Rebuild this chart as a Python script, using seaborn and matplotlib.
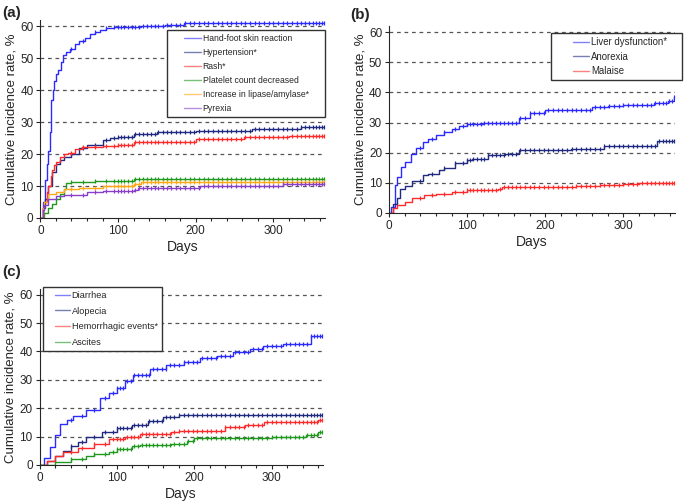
import numpy as np
import pandas as pd
import matplotlib
matplotlib.use("Agg")
import matplotlib.pyplot as plt
import seaborn as sns
from matplotlib.ticker import MultipleLocator
from matplotlib.patches import Rectangle

# panel (a)
a_hfsr_days = [0, 3, 6, 8, 10, 12, 14, 16, 18, 20, 23, 26, 29, 33, 38, 44, 50, 57, 64, 70, 77, 85, 95, 110, 130, 160, 185, 220, 365]
a_hfsr = [0, 5, 12, 17, 21, 27, 37, 40, 43, 45, 46.5, 49, 51, 52, 53, 54.5, 55.3, 56.5, 57.5, 58.3, 59, 59.5, 59.8, 59.9, 60, 60.5, 61, 61.2, 61.2]
a_htn_days = [0, 3, 6, 10, 15, 20, 25, 30, 40, 50, 60, 70, 80, 90, 100, 120, 150, 200, 273, 335, 365]
a_htn = [0, 3, 6, 10, 14.5, 17, 18.3, 19, 20, 22, 22.8, 23, 24.5, 25, 25.5, 26.3, 27, 27.2, 27.9, 28.6, 28.6]
a_rash_days = [0, 3, 5, 8, 10, 13, 15, 18, 20, 25, 30, 35, 45, 53, 60, 80, 100, 120, 170, 200, 262, 320, 365]
a_rash = [0, 3, 5, 8, 10, 13, 15, 16.5, 17.5, 19, 20, 20.5, 21.5, 22.1, 22.3, 22.5, 23, 23.7, 23.8, 24.7, 25.5, 25.8, 25.8]
a_plt_days = [0, 5, 10, 15, 20, 25, 30, 33, 40, 70, 120, 365]
a_plt = [0, 1.5, 3, 4.5, 6, 7.5, 9, 11, 11.3, 11.5, 12.1, 12.1]
a_lip_days = [0, 3, 5, 10, 20, 30, 50, 80, 120, 130, 365]
a_lip = [0, 3, 5, 7.5, 8, 9, 9.5, 10, 10.5, 11.2, 11.2]
a_pyr_days = [0, 3, 5, 10, 20, 30, 60, 80, 120, 125, 205, 312, 365]
a_pyr = [0, 2.5, 4, 6, 7, 7.2, 8, 8.5, 8.8, 9.5, 10.1, 10.5, 10.5]

# panel (b)
b_liver_days = [0, 3, 7, 10, 15, 20, 28, 35, 43, 50, 60, 70, 81, 90, 100, 120, 150, 166, 180, 200, 230, 260, 280, 300, 340, 358, 365]
b_liver = [0, 2, 9.2, 12, 15.2, 17, 19.7, 21.5, 23.5, 24.5, 25.8, 27, 28, 28.8, 29.6, 29.8, 30, 31.5, 33, 34, 34.3, 35, 35.5, 35.8, 36.5, 37.2, 38.5]
b_anor_days = [0, 5, 10, 14, 20, 30, 43, 50, 64, 70, 85, 100, 106, 127, 148, 166, 210, 233, 275, 290, 343, 365]
b_anor = [0, 3, 5, 8.1, 9, 10.5, 12.5, 13, 14.2, 15, 16.4, 17.5, 18, 19.1, 19.7, 20.8, 21, 21.3, 22.1, 22.3, 24, 24]
b_mal_days = [0, 5, 10, 20, 30, 45, 60, 80, 100, 140, 145, 200, 240, 270, 300, 320, 365]
b_mal = [0, 1.5, 2.5, 3.5, 4.8, 5.8, 6.3, 6.8, 7.5, 7.8, 8.5, 8.5, 9, 9.2, 9.5, 10, 10]

# panel (c)
c_diar_days = [0, 5, 13, 20, 26, 35, 43, 60, 78, 90, 100, 110, 121, 143, 164, 186, 207, 229, 250, 272, 289, 315, 351, 365]
c_diar = [0, 2.5, 6.3, 10.5, 14.4, 16, 17.2, 19.5, 23.6, 25.5, 27, 29.5, 31.6, 33.9, 35.1, 36.2, 37.6, 38.5, 39.7, 40.8, 42, 42.5, 45.4, 45.5]
c_alo_days = [0, 10, 20, 30, 40, 50, 60, 80, 100, 120, 140, 160, 180, 365]
c_alo = [0, 1.5, 3, 5, 6.5, 8, 10, 11.5, 13, 14, 15.5, 17, 17.7, 17.7]
c_hem_days = [0, 10, 20, 30, 50, 70, 90, 110, 130, 170, 180, 230, 240, 265, 290, 360, 365]
c_hem = [0, 1.5, 3, 4.5, 6, 7.5, 9, 10, 10.8, 11.5, 12, 12, 13.5, 14, 15, 15.8, 15.8]
c_asc_days = [0, 20, 40, 60, 70, 90, 100, 120, 130, 170, 190, 200, 300, 345, 360, 365]
c_asc = [0, 1, 2, 3, 4, 4.5, 5.5, 6.5, 7, 7.5, 8.5, 9.5, 10, 10.5, 11.5, 11.5]

# censored follow-up times (tick marks)
censor_days = [40, 55, 70, 85, 95, 100, 104, 108, 113, 118, 122, 127, 132, 137, 142, 147, 152, 158, 163, 168, 174, 180, 186, 192, 198,
               204, 210, 216, 222, 228, 234, 240, 246, 252, 258, 264, 270, 276, 282, 288, 294, 300, 306, 312, 318, 324,
               330, 336, 341, 346, 351, 355, 359, 362, 365]

blue = "#2b2bff"
navy = "#1f2a80"
red = "#ff2b2b"
green = "#1f9a1f"
orange = "#ffa81a"
purple = "#8a3fc8"

panels = [
    dict(letter="(a)", letter_xy=(0.004, 0.961), rect=[0.059, 0.565, 0.415, 0.395],
         series=[("Hand-foot skin reaction", a_hfsr_days, a_hfsr, blue),
                 ("Hypertension*", a_htn_days, a_htn, navy),
                 ("Rash*", a_rash_days, a_rash, red),
                 ("Platelet count decreased", a_plt_days, a_plt, green),
                 ("Increase in lipase/amylase*", a_lip_days, a_lip, orange),
                 ("Pyrexia", a_pyr_days, a_pyr, purple)],
         box=(0.445, 0.95), pads=(13, 12), fs=6.2, ls=0.58, hl=2.0),
    dict(letter="(b)", letter_xy=(0.511, 0.956), rect=[0.568, 0.575, 0.417, 0.373],
         series=[("Liver dysfunction*", b_liver_days, b_liver, blue),
                 ("Anorexia", b_anor_days, b_anor, navy),
                 ("Malaise", b_mal_days, b_mal, red)],
         box=(0.567, 0.963), pads=(18, 10), fs=6.9, ls=0.45, hl=1.65),
    dict(letter="(c)", letter_xy=(0.004, 0.443), rect=[0.058, 0.072, 0.413, 0.351],
         series=[("Diarrhea", c_diar_days, c_diar, blue),
                 ("Alopecia", c_alo_days, c_alo, navy),
                 ("Hemorrhagic events*", c_hem_days, c_hem, red),
                 ("Ascites", c_asc_days, c_asc, green)],
         box=(0.012, 1.012), pads=(8, 0), fs=6.6, ls=0.72, hl=1.6),
]

sns.set_style("ticks")
plt.rcParams['font.family'] = ['Liberation Sans', 'DejaVu Sans']

fig = plt.figure(figsize=(6.85, 5.01), dpi=100)
legends = []

for p in panels:
    rect = p["rect"]
    ax = fig.add_axes(rect)
    for y in range(10, 61, 10):
        ax.axhline(y, color="#555555", lw=0.9, ls=(0, (3, 3)), zorder=0)
    for name, days, vals, col in p["series"]:
        df = pd.DataFrame({"day": days, "rate": vals})
        sns.lineplot(data=df, x="day", y="rate", drawstyle="steps-post", color=col,
                     lw=1.0, label=name, ax=ax, legend=False)
        # censor marks on the step curve
        cd = np.array(censor_days)
        idx = np.searchsorted(days, cd, side="right") - 1
        cv = np.array(vals)[idx]
        ax.plot(cd, cv, ls="none", marker="|", ms=3.5, mew=0.9, color=col)
    ax.set_xlim(0, 366)
    ax.set_ylim(0, 62)
    ax.xaxis.set_major_locator(MultipleLocator(100))
    ax.xaxis.set_minor_locator(MultipleLocator(20))
    ax.yaxis.set_major_locator(MultipleLocator(10))
    ax.tick_params(labelsize=8.5, length=3, width=0.8, direction="out", pad=2)
    ax.tick_params(which="minor", length=2, width=0.8)
    ax.set_xlabel("Days", fontsize=10, labelpad=2)
    ax.set_ylabel("Cumulative incidence rate, %", fontsize=9.5, labelpad=2)
    sns.despine(ax=ax)

    ax_w_px = rect[2] * fig.get_figwidth() * fig.dpi
    lpad = p["pads"][0] / ax_w_px
    handles, labels = ax.get_legend_handles_labels()
    leg = ax.legend(handles, labels, loc="upper left", bbox_to_anchor=(p["box"][0] + lpad, p["box"][1]),
                    fontsize=p["fs"], frameon=False, handlelength=p["hl"], handletextpad=0.2,
                    borderpad=0.45, labelspacing=p["ls"], borderaxespad=0)
    for h in leg.get_lines():
        h.set_alpha(0.6)
    legends.append((ax, leg, p))

    fig.text(*p["letter_xy"], p["letter"], fontsize=11, fontweight="bold", va="bottom")

# legend frames: wider on the sides than matplotlib's uniform borderpad
fig.canvas.draw()
for ax, leg, p in legends:
    ax_w_px = p["rect"][2] * fig.get_figwidth() * fig.dpi
    rpad = p["pads"][1] / ax_w_px
    bb = leg.get_window_extent().transformed(ax.transAxes.inverted())
    ax.add_patch(Rectangle((p["box"][0], bb.y0), bb.x1 + rpad - p["box"][0], bb.y1 - bb.y0,
                           transform=ax.transAxes, facecolor="white", edgecolor="#333333",
                           lw=1, clip_on=False, zorder=4.5))

fig.savefig("out.png", dpi=100)
